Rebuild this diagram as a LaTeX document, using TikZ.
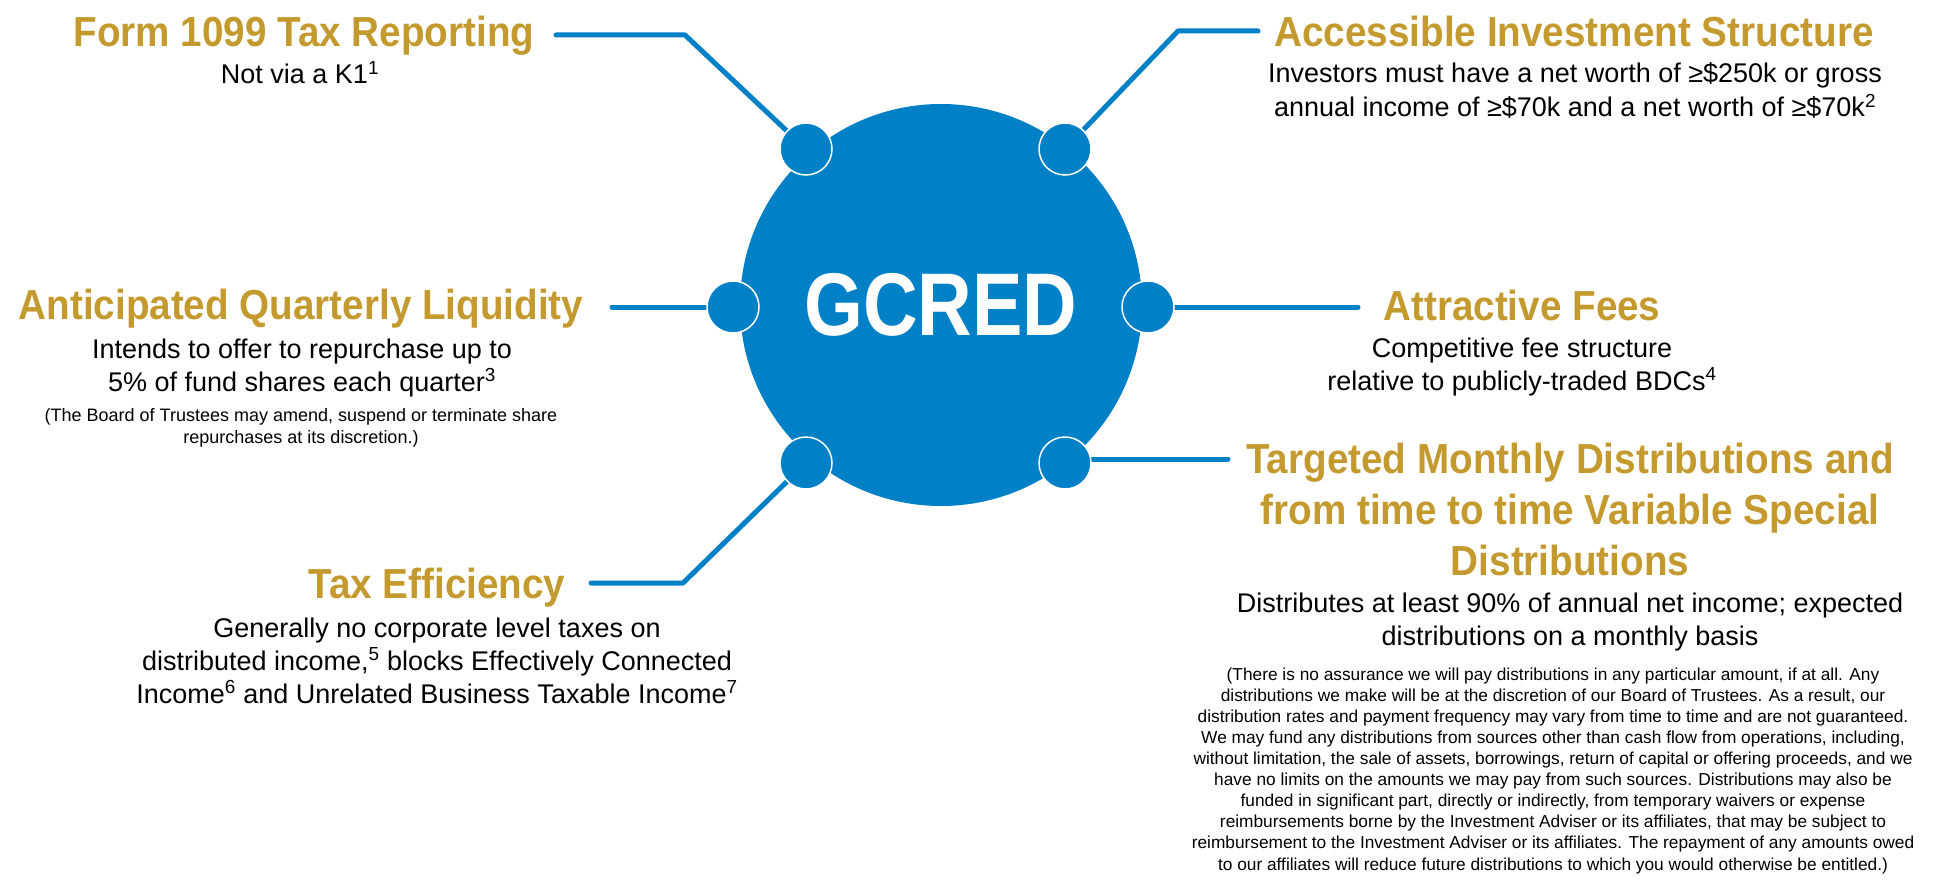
\documentclass[tikz,border=0pt]{standalone}
\usepackage{fontspec}
\setmainfont{Liberation Sans}
\newfontfamily\headfont[FakeStretch=0.92]{Liberation Sans}
\newfontfamily\hubfont[FakeStretch=0.85]{Liberation Sans}
\usepackage{tikz}
\usetikzlibrary{backgrounds}
\usepackage{xcolor}
\definecolor{gcblue}{RGB}{0,128,198}
\definecolor{gcgold}{RGB}{196,154,46}

\begin{document}
\begin{tikzpicture}[
    x=1pt, y=-1pt,
    head/.style={text=gcgold, font=\headfont\bfseries\fontsize{42}{51}\selectfont, align=center, inner sep=0pt, anchor=base},
    body/.style={font=\fontsize{27}{33}\selectfont, align=center, inner sep=0pt, anchor=base},
    note/.style={font=\fontsize{18}{22}\selectfont, align=center, inner sep=0pt, anchor=base},
    fine/.style={font=\fontsize{17.3}{21.1}\selectfont, align=center, inner sep=0pt, anchor=base},
    hub/.style={circle, fill=gcblue, text=white, inner sep=0pt, minimum size=402pt, font=\hubfont\bfseries\fontsize{89}{89}\selectfont},
    dot/.style={circle, fill=gcblue, draw=white, line width=1.5pt, inner sep=0pt, minimum size=52pt},
    link/.style={draw=gcblue, line width=5pt, line cap=round, line join=round}
]
\useasboundingbox (0,0) rectangle (1948,880);

% centre
\node[hub] (gcred) at (941,305) {GCRED};
\node[dot] (tl) at (806,149) {};
\node[dot] (tr) at (1065,149) {};
\node[dot] (ml) at (733,307) {};
\node[dot] (mr) at (1148,307) {};
\node[dot] (bl) at (806,463) {};
\node[dot] (br) at (1065,463) {};

% features (multi-line nodes sit on their last baseline)
\node[head] (formT) at (304,47) {Form 1099 Tax Reporting};
\node[body] (formB) at (300,84) {Not via a K1\textsuperscript{1}};

\node[head] (accT) at (1574,47) {Accessible Investment Structure};
\node[body, font=\fontsize{27}{34}\selectfont] (accB) at (1575,117) {Investors must have a net worth of ≥\$250k or gross\\annual income of ≥\$70k and a net worth of ≥\$70k\textsuperscript{2}};

\node[head] (liqT) at (301,319) {Anticipated Quarterly Liquidity};
\node[body] (liqB) at (302,391) {Intends to offer to repurchase up to\\5\% of fund shares each quarter\textsuperscript{3}};
\node[note] (liqN) at (301,443) {(The Board of Trustees may amend, suspend or terminate share\\repurchases at its discretion.)};

\node[head] (feeT) at (1522,320) {Attractive Fees};
\node[body] (feeB) at (1522,390) {Competitive fee structure\\relative to publicly-traded BDCs\textsuperscript{4}};

\node[head] (distT) at (1570,575) {Targeted Monthly Distributions and\\from time to time Variable Special\\Distributions};
\node[body] (distB) at (1570,645) {Distributes at least 90\% of annual net income; expected\\distributions on a monthly basis};
\node[fine] (distN) at (1553,870) {(There is no assurance we will pay distributions in any particular amount, if at all. Any\\
distributions we make will be at the discretion of our Board of Trustees. As a result, our\\
distribution rates and payment frequency may vary from time to time and are not guaranteed.\\
We may fund any distributions from sources other than cash flow from operations, including,\\
without limitation, the sale of assets, borrowings, return of capital or offering proceeds, and we\\
have no limits on the amounts we may pay from such sources. Distributions may also be\\
funded in significant part, directly or indirectly, from temporary waivers or expense\\
reimbursements borne by the Investment Adviser or its affiliates, that may be subject to\\
reimbursement to the Investment Adviser or its affiliates. The repayment of any amounts owed\\
to our affiliates will reduce future distributions to which you would otherwise be entitled.)};

\node[head] (taxT) at (437,598) {Tax Efficiency};
\node[body] (taxB) at (437,703) {Generally no corporate level taxes on\\distributed income,\textsuperscript{5} blocks Effectively Connected\\Income\textsuperscript{6} and Unrelated Business Taxable Income\textsuperscript{7}};

% connectors
\coordinate (formEnd) at (556,35);
\coordinate (formBend) at (685,35);
\coordinate (accEnd) at (1258,31);
\coordinate (accBend) at (1178,31);
\coordinate (liqEnd) at (612,307);
\coordinate (feeEnd) at (1358,307);
\coordinate (distEnd) at (1228,459);
\coordinate (taxEnd) at (591,583);
\coordinate (taxBend) at (683,583);

\begin{scope}[on background layer]
\draw[link] (formEnd) -- (formBend) -- (tl.center);
\draw[link] (accEnd) -- (accBend) -- (tr.center);
\draw[link] (liqEnd) -- (ml.center);
\draw[link] (mr.center) -- (feeEnd);
\draw[link] (br.center |- distEnd) -- (distEnd);
\draw[link] (taxEnd) -- (taxBend) -- (bl.center);
\end{scope}

\end{tikzpicture}
\end{document}
